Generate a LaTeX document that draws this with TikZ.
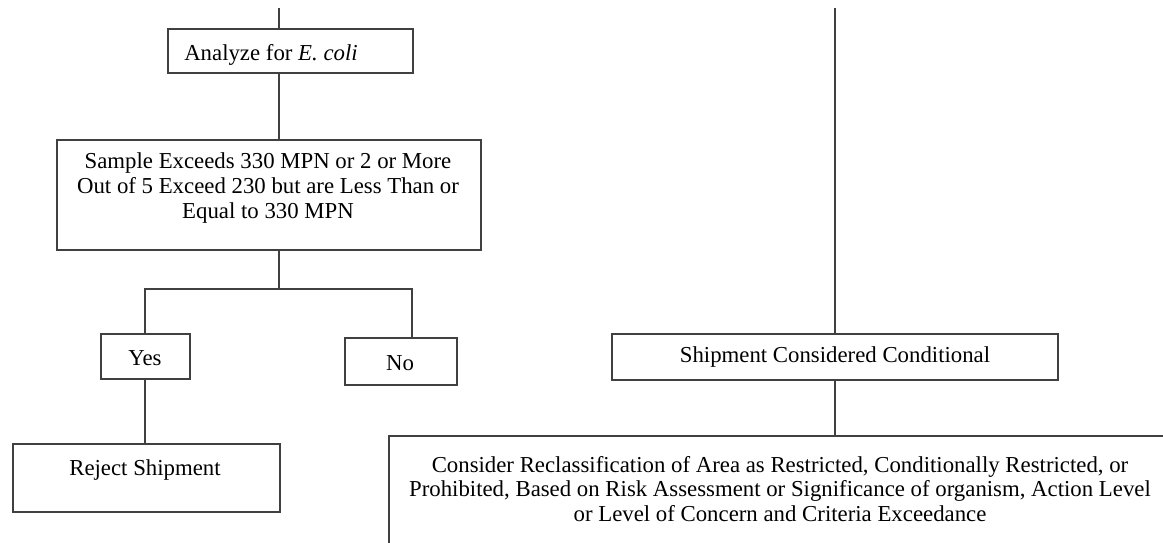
\documentclass[tikz,border=0pt]{standalone}
\usepackage{fontspec}
\setmainfont{Liberation Serif}
\begin{document}
\begin{tikzpicture}[x=1pt,y=-1pt,
  box/.style={draw=black!75, line width=1.6pt, rectangle, inner sep=0pt, anchor=north west},
  txt/.style={font=\fontsize{22.8}{24.8}\selectfont, align=center, inner sep=0pt, text=black},
  conn/.style={draw=black!75, line width=1.6pt}]
\clip (0,0) rectangle (1163,542);
% boxes
\node[box, minimum width=245pt, minimum height=44pt] (analyze) at (167,28) {};
\node[box, minimum width=424pt, minimum height=110pt] (sample) at (56,139) {};
\node[box, minimum width=89pt, minimum height=45pt] (yes) at (100,333) {};
\node[box, minimum width=112pt, minimum height=47pt] (no) at (344,337) {};
\node[box, minimum width=267pt, minimum height=68pt] (reject) at (12,443) {};
\node[box, minimum width=446pt, minimum height=46pt] (ship) at (611,333) {};
\node[box, minimum width=790pt, minimum height=140pt] (consider) at (388,435) {};
% texts
\node[txt] (tanalyze) at (271,55) {Analyze for \textit{E. coli}};
\node[txt] (tsample) at (268,188) {Sample Exceeds 330 MPN or 2 or More\\Out of 5 Exceed 230 but are Less Than or\\Equal to 330 MPN};
\node[txt] (tyes) at (145,358) {Yes};
\node[txt] (tno) at (400,363) {No};
\node[txt] (treject) at (145,470) {Reject Shipment};
\node[txt] (tship) at (835,357) {Shipment Considered Conditional};
\node[txt] (tconsider) at (780,489) {Consider Reclassification of Area as Restricted, Conditionally Restricted, or\\Prohibited, Based on Risk Assessment or Significance of organism, Action Level\\or Level of Concern and Criteria Exceedance};
% connectors
\coordinate (topL) at (279,8);
\coordinate (topR) at (835,8);
\coordinate (split) at (279,289);
\coordinate (splitL) at (145,289);
\coordinate (splitR) at (412,289);
\draw[conn] (topL) -- (topL |- analyze.north);
\draw[conn] (topL |- analyze.south) -- (topL |- sample.north);
\draw[conn] (topL |- sample.south) -- (split);
\draw[conn] (yes.north -| splitL) -- (splitL) -- (splitR) -- (splitR |- no.north);
\draw[conn] (yes.south -| splitL) -- (splitL |- reject.north);
\draw[conn] (topR) -- (topR |- ship.north);
\draw[conn] (topR |- ship.south) -- (topR |- consider.north);
\end{tikzpicture}
\end{document}
